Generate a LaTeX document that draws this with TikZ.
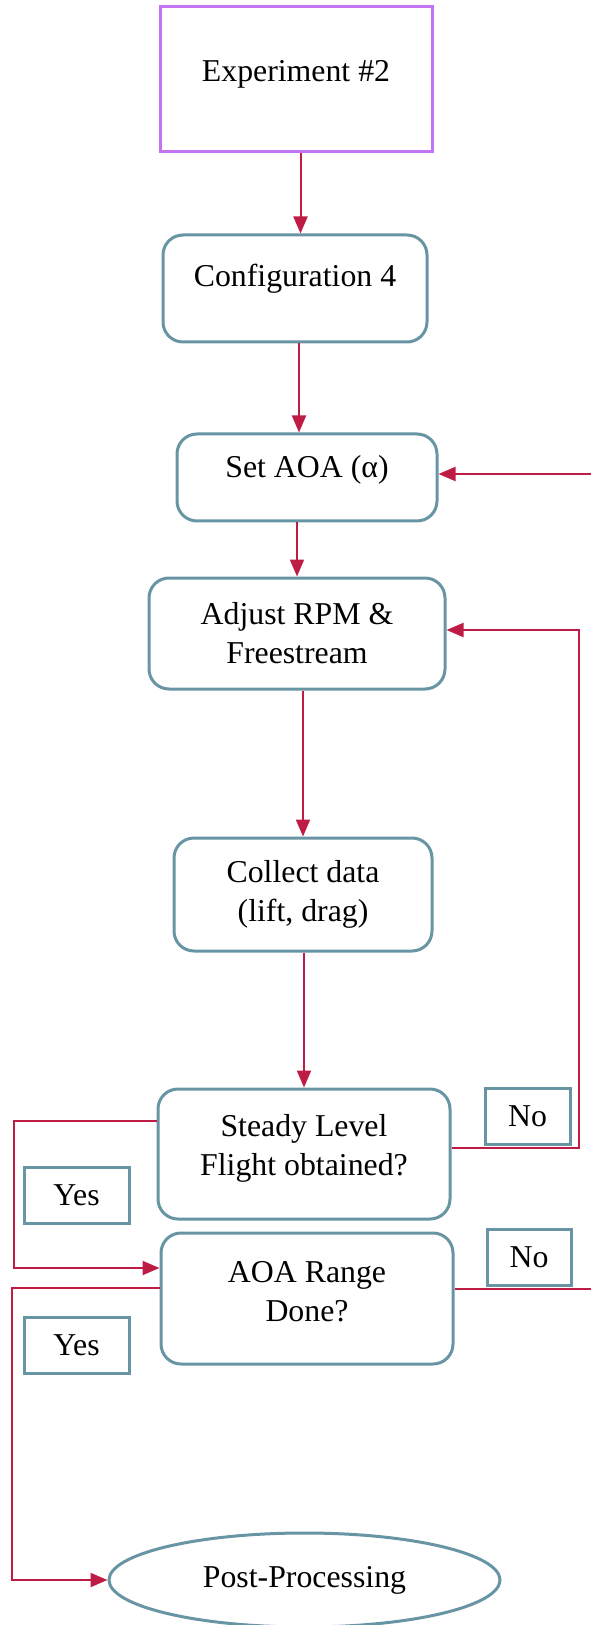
\documentclass[tikz,border=0pt]{standalone}
\usepackage{fontspec}
\setmainfont{Liberation Serif}
\usetikzlibrary{arrows.meta, shapes.geometric}
\definecolor{boxpurple}{RGB}{196,116,240}
\definecolor{boxteal}{RGB}{104,149,164}
\definecolor{linered}{RGB}{190,28,68}

\begin{document}
\begin{tikzpicture}[x=0.5pt, y=-0.5pt, font=\fontsize{15.9}{19.5}\selectfont,
    box/.style={draw=boxteal, line width=1.5pt, rounded corners=10pt},
    tag/.style={draw=boxteal, line width=1.5pt, minimum height=28pt},
    txt/.style={align=center, inner sep=0pt},
    arr/.style={draw=linered, line width=1pt, -{Triangle[length=8.5pt, width=7pt]}}]
      \useasboundingbox (0,0) rectangle (590,1625);

      \node[draw=boxpurple, line width=1.5pt, minimum width=136pt, minimum height=72.5pt] (EXP) at (296,  79.5) {};
      \node[txt] (EXPt) at (296,  74)   {Experiment \#2};
      \node[box, minimum width=132pt, minimum height=53.5pt]  (CFG)  at (295,  288.5) {};
      \node[txt] (CFGt) at (295,  279)  {Configuration 4};
      \node[box, minimum width=130pt, minimum height=43.5pt]  (AOA)  at (307,  477.5) {};
      \node[txt] (AOAt) at (307,  470)  {Set AOA (α)};
      \node[box, minimum width=148pt, minimum height=55.5pt, align=center]  (RPM)  at (297,  633.5) {Adjust RPM \& \\ Freestream};
      \node[box, minimum width=129pt, minimum height=56.5pt, align=center]  (DATA) at (303,  894.5) {Collect data \\ (lift, drag)};
      \node[box, minimum width=146pt, minimum height=65pt]    (SLF)  at (304, 1154)   {};
      \node[txt] (SLFt) at (304, 1148)  {Steady Level \\ Flight obtained?};
      \node[box, minimum width=146pt, minimum height=65.5pt]  (RNG)  at (307, 1298.5) {};
      \node[txt] (RNGt) at (307, 1292)  {AOA Range \\ Done?};
      \node[draw=boxteal, line width=1.5pt, ellipse, inner sep=0pt, minimum width=195.5pt, minimum height=47pt] (POST) at (304.5, 1580) {Post-Processing};

      \node[tag, minimum width=42.5pt] (N1) at (527.5, 1116) {No};
      \node[tag, minimum width=42pt]   (N2) at (529,   1257) {No};
      \node[tag, minimum width=52.5pt] (Y1) at (76.5,  1195) {Yes};
      \node[tag, minimum width=52.5pt] (Y2) at (76.5,  1345) {Yes};

      % main line
      \coordinate (e1) at ([xshift=2.25pt]EXP.south);
      \draw[arr] (e1) -- (e1 |- CFG.north);
      \coordinate (c1) at ([xshift=2pt]CFG.south);
      \draw[arr] (c1) -- (c1 |- AOA.north);
      \draw[arr] (RPM.north |- AOA.south) -- (RPM.north);
      \draw[arr] (DATA.north |- RPM.south) -- (DATA.north);
      \draw[arr] (SLF.north |- DATA.south) -- (SLF.north);

      % no loops
      \coordinate (noA) at (579, 630);
      \draw[arr] ([yshift=3pt]SLF.east) -| (noA) -- (RPM.east |- noA);
      \coordinate (noB) at (596, 474);
      \draw[arr] ([yshift=4.75pt]RNG.east) -| (noB) -- (AOA.east |- noB);

      % yes branches
      \coordinate (yesA) at (14, 1268);
      \draw[arr] ([yshift=16.5pt]SLF.west) -| (yesA) -- (RNG.west |- yesA);
      \coordinate (yesB) at (12, 1580);
      \draw[arr] ([yshift=5.25pt]RNG.west) -| (yesB) -- (POST.west);
    \end{tikzpicture}
\end{document}
